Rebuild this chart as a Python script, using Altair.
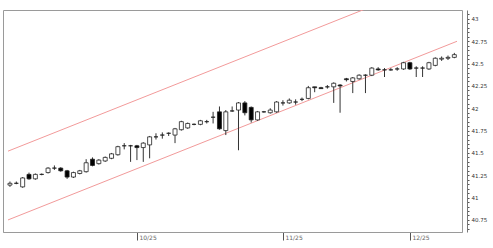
import altair as alt
import pandas as pd

opens = [41.14, 41.16, 41.12, 41.26, 41.21, 41.26, 41.28, 41.33, 41.33, 41.30,
         41.23, 41.27, 41.29, 41.43, 41.38, 41.41, 41.44, 41.48, 41.58, 41.58,
         41.58, 41.56, 41.59, 41.68, 41.70, 41.72, 41.70, 41.76, 41.78, 41.82,
         41.82, 41.85, 41.90, 41.96, 41.75, 41.97, 41.98, 42.06, 42.01, 41.87,
         41.96, 41.95, 41.96, 42.06, 42.06, 42.07, 42.10, 42.11, 42.24, 42.23,
         42.24, 42.24, 42.26, 42.33, 42.30, 42.33, 42.37, 42.37, 42.44, 42.43,
         42.43, 42.44, 42.44, 42.51, 42.45, 42.45, 42.44, 42.48, 42.55, 42.56,
         42.57]
highs = [41.18, 41.18, 41.23, 41.28, 41.27, 41.27, 41.34, 41.36, 41.34, 41.31,
         41.29, 41.31, 41.43, 41.45, 41.43, 41.46, 41.50, 41.58, 41.61, 41.59,
         41.59, 41.62, 41.69, 41.72, 41.73, 41.73, 41.78, 41.86, 41.84, 41.83,
         41.87, 41.87, 41.96, 42.02, 41.98, 42.02, 42.07, 42.08, 42.02, 41.97,
         41.97, 42.00, 42.08, 42.09, 42.11, 42.10, 42.12, 42.25, 42.24, 42.24,
         42.26, 42.29, 42.27, 42.34, 42.35, 42.38, 42.38, 42.46, 42.46, 42.45,
         42.45, 42.46, 42.52, 42.52, 42.47, 42.47, 42.52, 42.57, 42.58, 42.59,
         42.62]
lows = [41.12, 41.15, 41.11, 41.20, 41.20, 41.25, 41.27, 41.31, 41.29, 41.21,
        41.22, 41.26, 41.28, 41.35, 41.37, 41.40, 41.43, 41.47, 41.54, 41.40,
        41.42, 41.40, 41.44, 41.65, 41.66, 41.69, 41.61, 41.75, 41.77, 41.81,
        41.81, 41.83, 41.83, 41.76, 41.70, 41.96, 41.53, 41.92, 41.84, 41.86,
        41.95, 41.94, 41.95, 42.03, 42.05, 42.04, 42.08, 42.10, 42.18, 42.22,
        42.22, 42.06, 41.95, 42.30, 42.17, 42.32, 42.17, 42.36, 42.42, 42.35,
        42.42, 42.42, 42.43, 42.43, 42.35, 42.35, 42.43, 42.47, 42.53, 42.54,
        42.56]
closes = [41.16, 41.16, 41.22, 41.21, 41.26, 41.26, 41.33, 41.33, 41.30, 41.23,
          41.28, 41.30, 41.39, 41.36, 41.42, 41.45, 41.49, 41.57, 41.58, 41.58,
          41.56, 41.61, 41.68, 41.68, 41.70, 41.72, 41.77, 41.85, 41.83, 41.82,
          41.86, 41.85, 41.90, 41.77, 41.96, 41.97, 42.06, 41.95, 41.87, 41.96,
          41.96, 41.98, 42.07, 42.06, 42.09, 42.07, 42.10, 42.23, 42.23, 42.22,
          42.24, 42.28, 42.25, 42.32, 42.34, 42.37, 42.37, 42.45, 42.43, 42.43,
          42.43, 42.44, 42.51, 42.44, 42.45, 42.45, 42.51, 42.56, 42.56, 42.57,
          42.60]

# channel lines: (bar index, price) endpoints
lower_x = [-0.31, 70.42]
lower_y = [40.75, 42.75]
upper_x = [-0.31, 70.42]
upper_y = [41.52, 43.52]

date_ticks = [20, 43, 63]
date_labels = ["10/25", "11/25", "12/25"]

price_ticks = [round(40.65 + 0.05 * i, 2) for i in range(49)]

df = pd.DataFrame({"i": list(range(len(opens))), "open": opens, "high": highs,
                   "low": lows, "close": closes})
lines = pd.DataFrame({"i": lower_x + upper_x, "p": lower_y + upper_y,
                      "band": ["lower"] * 2 + ["upper"] * 2})

label_map = "{" + ",".join(f"'{t}':'{l}'" for t, l in zip(date_ticks, date_labels)) + "}"

xscale = alt.Scale(domain=[-0.31, 70.42], nice=False, zero=False)
yscale = alt.Scale(domain=[40.615, 43.10], nice=False, zero=False)

x_axis = alt.Axis(values=date_ticks, labelExpr=f"{label_map}[datum.label]",
                  title=None, grid=False, domainColor="#9a9a9a", tickColor="#555",
                  tickSize=8, labelAlign="left", labelBaseline="top",
                  labelPadding=-6, labelFontSize=6, labelColor="#666",
                  labelFont="DejaVu Sans", labelOffset=2, labelOverlap=False,
                  tickCount=20)
y_axis = alt.Axis(orient="right", values=price_ticks, tickCount=200,
                  labelExpr="abs(round(datum.value*4)-datum.value*4)<0.01 ? format(datum.value,'~f') : ''",
                  title=None, grid=False, offset=5, domainColor="#777",
                  tickColor="#555", tickSize=2, labelFontSize=5.5,
                  labelColor="#333", labelFont="DejaVu Sans", labelPadding=2,
                  labelOverlap=False, labelBound=False, labelFlush=False)

base = alt.Chart(df)
wicks = base.mark_rule(color="#333", strokeWidth=1).encode(
    x=alt.X("i:Q", scale=xscale, axis=x_axis),
    y=alt.Y("low:Q", scale=yscale, axis=y_axis),
    y2="high:Q",
)
bodies = base.mark_bar(size=4, stroke="#222", strokeWidth=0.8).encode(
    x=alt.X("i:Q", scale=xscale),
    y=alt.Y("open:Q", scale=yscale),
    y2="close:Q",
    fill=alt.condition("datum.close >= datum.open", alt.value("white"), alt.value("black")),
)
band = alt.Chart(lines).mark_line(color="#f29a9a", strokeWidth=1, clip=True).encode(
    x=alt.X("i:Q", scale=xscale),
    y=alt.Y("p:Q", scale=yscale),
    detail="band:N",
)

chart = alt.layer(band, wicks, bodies).properties(
    width=459, height=222,
    autosize=alt.AutoSizeParams(type="none"),
    padding={"left": 3, "top": 10, "right": 31, "bottom": 16},
    background="white",
).configure_view(stroke="#9a9a9a", strokeWidth=1)

chart.save("out.html", embed_options={"renderer": "svg", "actions": False})
